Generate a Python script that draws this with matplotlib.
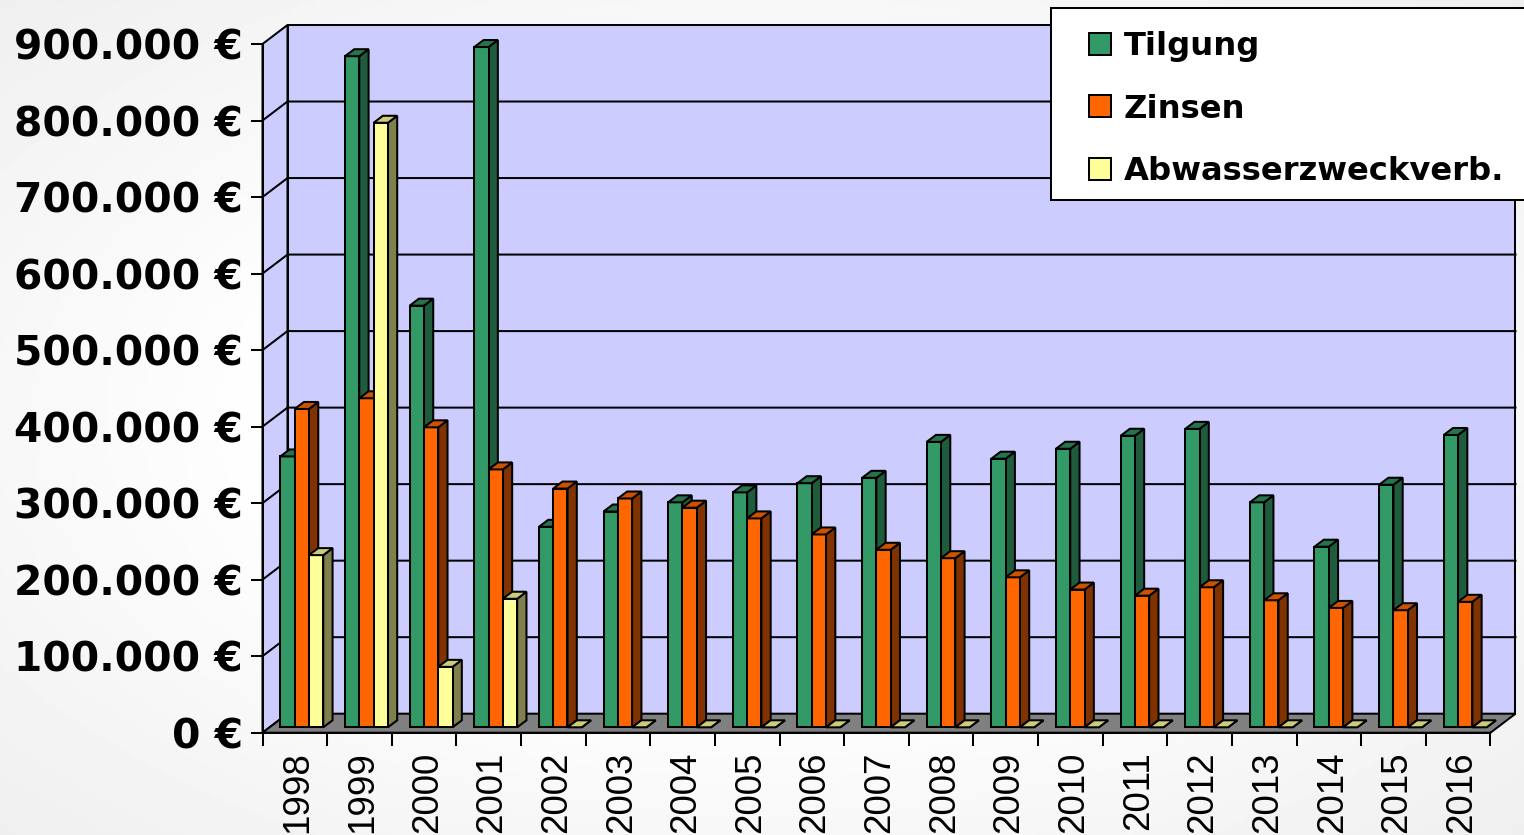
import numpy as np
import matplotlib
matplotlib.use('Agg')
import matplotlib.pyplot as plt
from matplotlib.patches import Polygon, Patch, Rectangle

# Data
years = list(range(1998, 2017))
tilgung = [354000, 877000, 551000, 889000, 262000, 282000, 294000, 307000, 319000, 326000,
           373000, 351000, 364000, 381000, 390000, 294000, 236000, 317000, 382000]
zinsen = [416000, 430000, 392000, 337000, 312000, 299000, 287000, 273000, 252000, 232000,
          221000, 196000, 180000, 172000, 183000, 166000, 156000, 153000, 164000]
abwasser = [225000, 790000, 79000, 168000, 0, 0, 0, 0, 0, 0,
            0, 0, 0, 0, 0, 0, 0, 0, 0]
series_names = ['Tilgung', 'Zinsen', 'Abwasserzweckverb.']
y_ticks = list(range(0, 1000000, 100000))

# front, top, side colour per series
colors = [('#339966', '#26734D', '#1F5C3D'),
          ('#FF6600', '#CC5200', '#803300'),
          ('#FFFF99', '#CCCC7A', '#80804D')]

W, H = 1524, 835
LW = 1.45

fig = plt.figure(figsize=(W / 100, H / 100), dpi=100, facecolor='white')

# soft grey slide background, white in the middle
bg = fig.add_axes([0, 0, 1, 1], zorder=-1)
gx, gy = np.meshgrid(np.linspace(-1, 1, 300), np.linspace(-1, 1, 200))
shade = 255 - 16 * np.clip(np.hypot(gx, gy) - 0.62, 0, None) / 0.79
bg.imshow(shade, cmap='gray', vmin=0, vmax=255, aspect='auto')
bg.axis('off')

x0, x1 = 262.5, 1490.5
y0, y1 = 732.7, 44.0
ax = fig.add_axes([x0 / W, 1 - y0 / H, (x1 - x0) / W, (y0 - y1) / H])
ax.set_xlim(0, 19)
ax.set_ylim(0, 900000)
ax.patch.set_alpha(0)

# 3d offsets in data units
px_x = 19 / (x1 - x0)
px_y = 900000 / (y0 - y1)
wall_dx = 25 * px_x
wall_dy = 19 * px_y
bar_dx = 9.3 * px_x
bar_dy = 7 * px_y
front_dx = 7 * px_x
front_dy = 5.4 * px_y
gap = 0.168
bar_w = (1 - 2 * gap) / 3


def poly(points, color, zorder=1):
    ax.add_patch(Polygon(points, closed=True, facecolor=color, edgecolor='black',
                         linewidth=LW, clip_on=False, zorder=zorder, joinstyle='miter'))


# walls and floor
ymax = y_ticks[-1]
poly([(wall_dx, wall_dy), (19 + wall_dx, wall_dy), (19 + wall_dx, ymax + wall_dy), (wall_dx, ymax + wall_dy)], '#CCCCFF')
poly([(0, 0), (wall_dx, wall_dy), (wall_dx, ymax + wall_dy), (0, ymax)], '#CCCCFF')
poly([(0, 0), (19, 0), (19 + wall_dx, wall_dy), (wall_dx, wall_dy)], '#808080')
for v in y_ticks[1:-1]:
    ax.plot([0, wall_dx, 19 + wall_dx], [v, v + wall_dy, v + wall_dy], color='black',
            linewidth=LW, clip_on=False, zorder=1.1, solid_joinstyle='miter')

# bars, left to right so each one covers the side of the one before
all_series = [tilgung, zinsen, abwasser]
for i in range(len(years)):
    for s, values in enumerate(all_series):
        v = values[i]
        left = i + gap + s * bar_w + front_dx
        right = left + bar_w
        base = front_dy
        top = base + v
        face, roof, side = colors[s]
        poly([(right, base), (right + bar_dx, base + bar_dy), (right + bar_dx, top + bar_dy), (right, top)], side, 2)
        poly([(left, base), (right, base), (right, top), (left, top)], face, 2)
        poly([(left, top), (right, top), (right + bar_dx, top + bar_dy), (left + bar_dx, top + bar_dy)], roof, 2)

# axes
for name in ['top', 'right']:
    ax.spines[name].set_visible(False)
for name in ['left', 'bottom']:
    ax.spines[name].set_linewidth(LW)
    ax.spines[name].set_zorder(3)

ax.set_yticks(y_ticks)
ax.set_yticklabels([f'{v:,.0f} €'.replace(',', '.') for v in y_ticks],
                   fontsize=29.3, fontweight='bold', family='DejaVu Sans')
ax.tick_params(axis='y', length=8.6, width=LW, pad=5.5)

ax.set_xticks(range(20))
ax.set_xticklabels([])
ax.set_xticks(np.arange(19) + 0.55, minor=True)
ax.set_xticklabels(years, minor=True, rotation=90, fontsize=26.5, family='Liberation Sans')
ax.tick_params(axis='x', which='major', length=9, width=LW)
ax.tick_params(axis='x', which='minor', length=0, pad=13.5)

# legend box runs off the right edge of the picture
ax.add_patch(Rectangle((1051 / W, 1 - 200 / H), 490 / W, 192 / H, transform=fig.transFigure,
                       facecolor='white', edgecolor='black', linewidth=LW, clip_on=False, zorder=4))
handles = [Patch(facecolor=c[0], edgecolor='black', linewidth=LW) for c in colors]
fs_px = 32.2
leg = ax.legend(handles, series_names, loc='upper left',
                bbox_to_anchor=(1089.4 / W, 1 - 31.4 / H), bbox_transform=fig.transFigure,
                prop={'family': 'DejaVu Sans', 'weight': 'bold', 'size': 23.2},
                frameon=False, borderaxespad=0, borderpad=0,
                handlelength=22 / fs_px, handleheight=22 / fs_px,
                handletextpad=12 / fs_px, labelspacing=0.97)
leg.set_zorder(5)

fig.savefig('out.png', dpi=100)
